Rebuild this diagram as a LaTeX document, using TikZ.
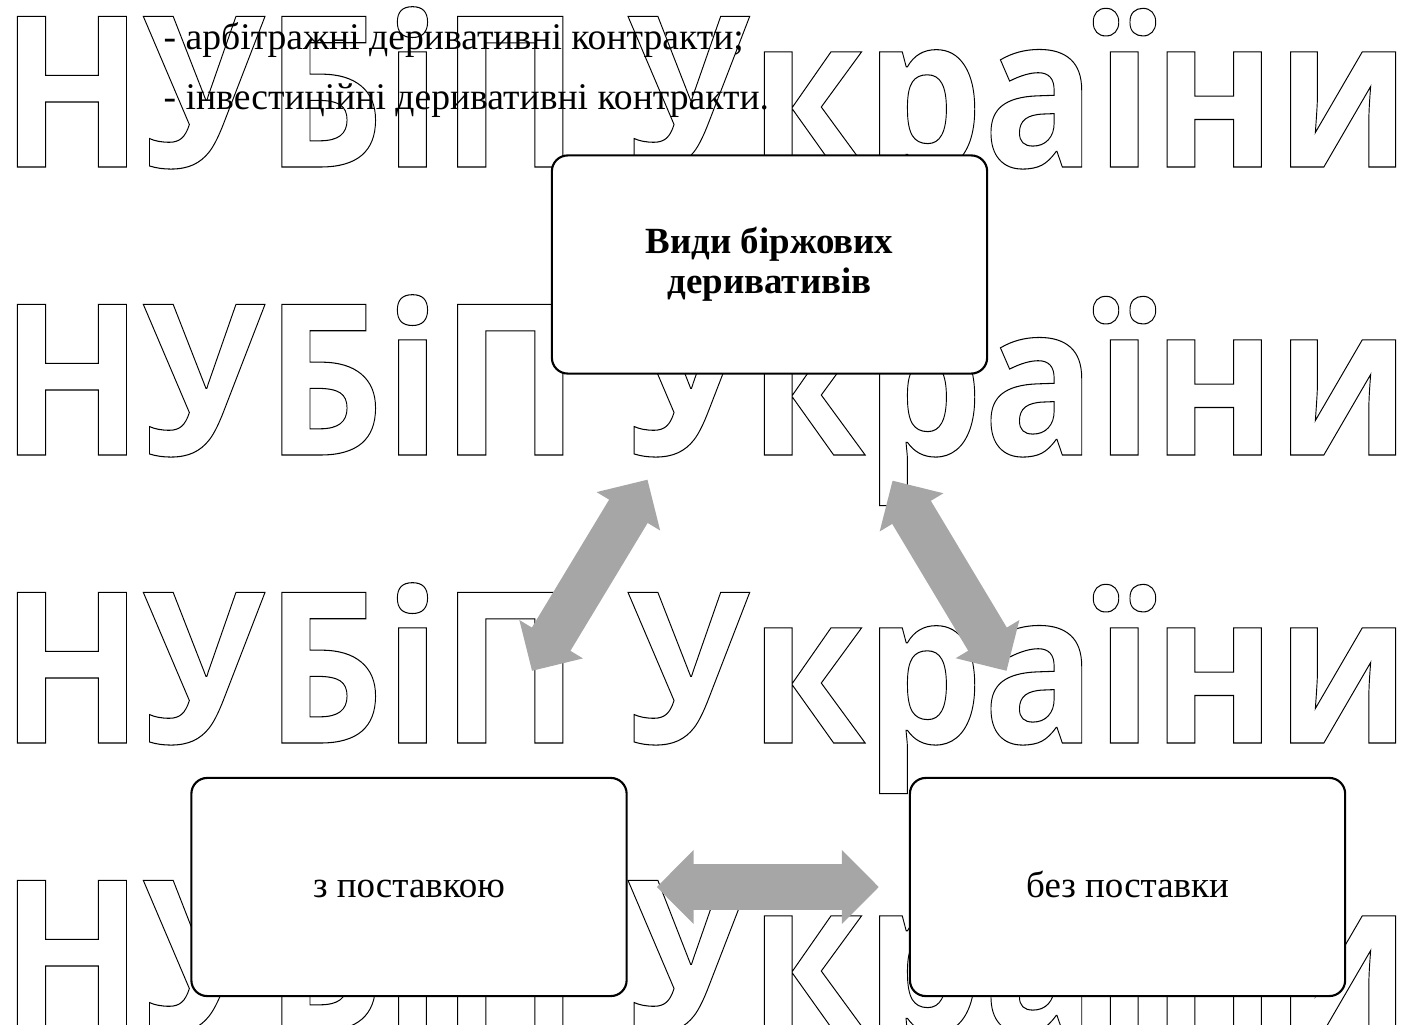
\documentclass[tikz,border=0pt]{standalone}
\usepackage{fontspec}
\setmainfont{Liberation Serif}
\newfontfamily\wmfont{Open Sans}
\usepackage{graphicx}
\usetikzlibrary{arrows.meta,positioning,calc,backgrounds}
\definecolor{arrgray}{RGB}{166,166,166}

% hollow letters for the background lettering (stroke-only text)
\newcommand{\hollow}[1]{\special{pdf:literal direct 1 Tr 0.3 w}#1\special{pdf:literal direct 0 Tr}}

\begin{document}
\begin{tikzpicture}[x=0.01cm, y=-0.01cm,
  box/.style={draw, line width=0.6pt, rounded corners=4.5pt, fill=white, align=center,
    minimum width=4.35cm, minimum height=2.18cm, inner sep=0pt, font=\fontsize{10.5}{11.4}\selectfont},
  leaf/.style={box, text height=7.2pt, text depth=1.5pt},
  item/.style={anchor=base west, inner sep=0pt, font=\fontsize{10.7}{12}\selectfont},
  wm/.style={anchor=base west, inner sep=0pt, font=\wmfont\bfseries\fontsize{60}{60}\selectfont},
  twoway/.style={draw=arrgray, line width=0.45cm,
    {Triangle[length=0.37cm,width=0.72cm]}-{Triangle[length=0.37cm,width=0.72cm]}}]
\useasboundingbox (0,0) rectangle (1410,1025);

% background lettering, four rows
\begin{scope}[on background layer]
  \foreach \r/\yb in {1/167, 2/455, 3/743, 4/1031}
    \node[wm] (wm\r) at (0,\yb) {\resizebox{14.09cm}{\height}{\hollow{НУБіП України}}};
\end{scope}

% list lines
\node[item] (arb) at (163,50) {- арбітражні деривативні контракти;};
\node[item] (inv) at (163,110) {- інвестиційні деривативні контракти.};

\node[box, font=\fontsize{10.5}{11.4}\selectfont\bfseries] (kinds) at (769.5,264.5) {Види біржових\\деривативів};
\node[leaf] (deliv) at (409,887) {з поставкою};
\node[leaf, right=2.81cm of deliv] (nodeliv) {без поставки};

\draw[twoway] ($(kinds.south)+(-122,105)$) -- ($(deliv.north)+(123,-106)$);
\draw[twoway] ($(kinds.south)+(123,106)$) -- ($(nodeliv.north)+(-121,-106)$);
\draw[twoway] ([xshift=0.29cm]deliv.east) -- ([xshift=-0.3cm]nodeliv.west);
\end{tikzpicture}
\end{document}
